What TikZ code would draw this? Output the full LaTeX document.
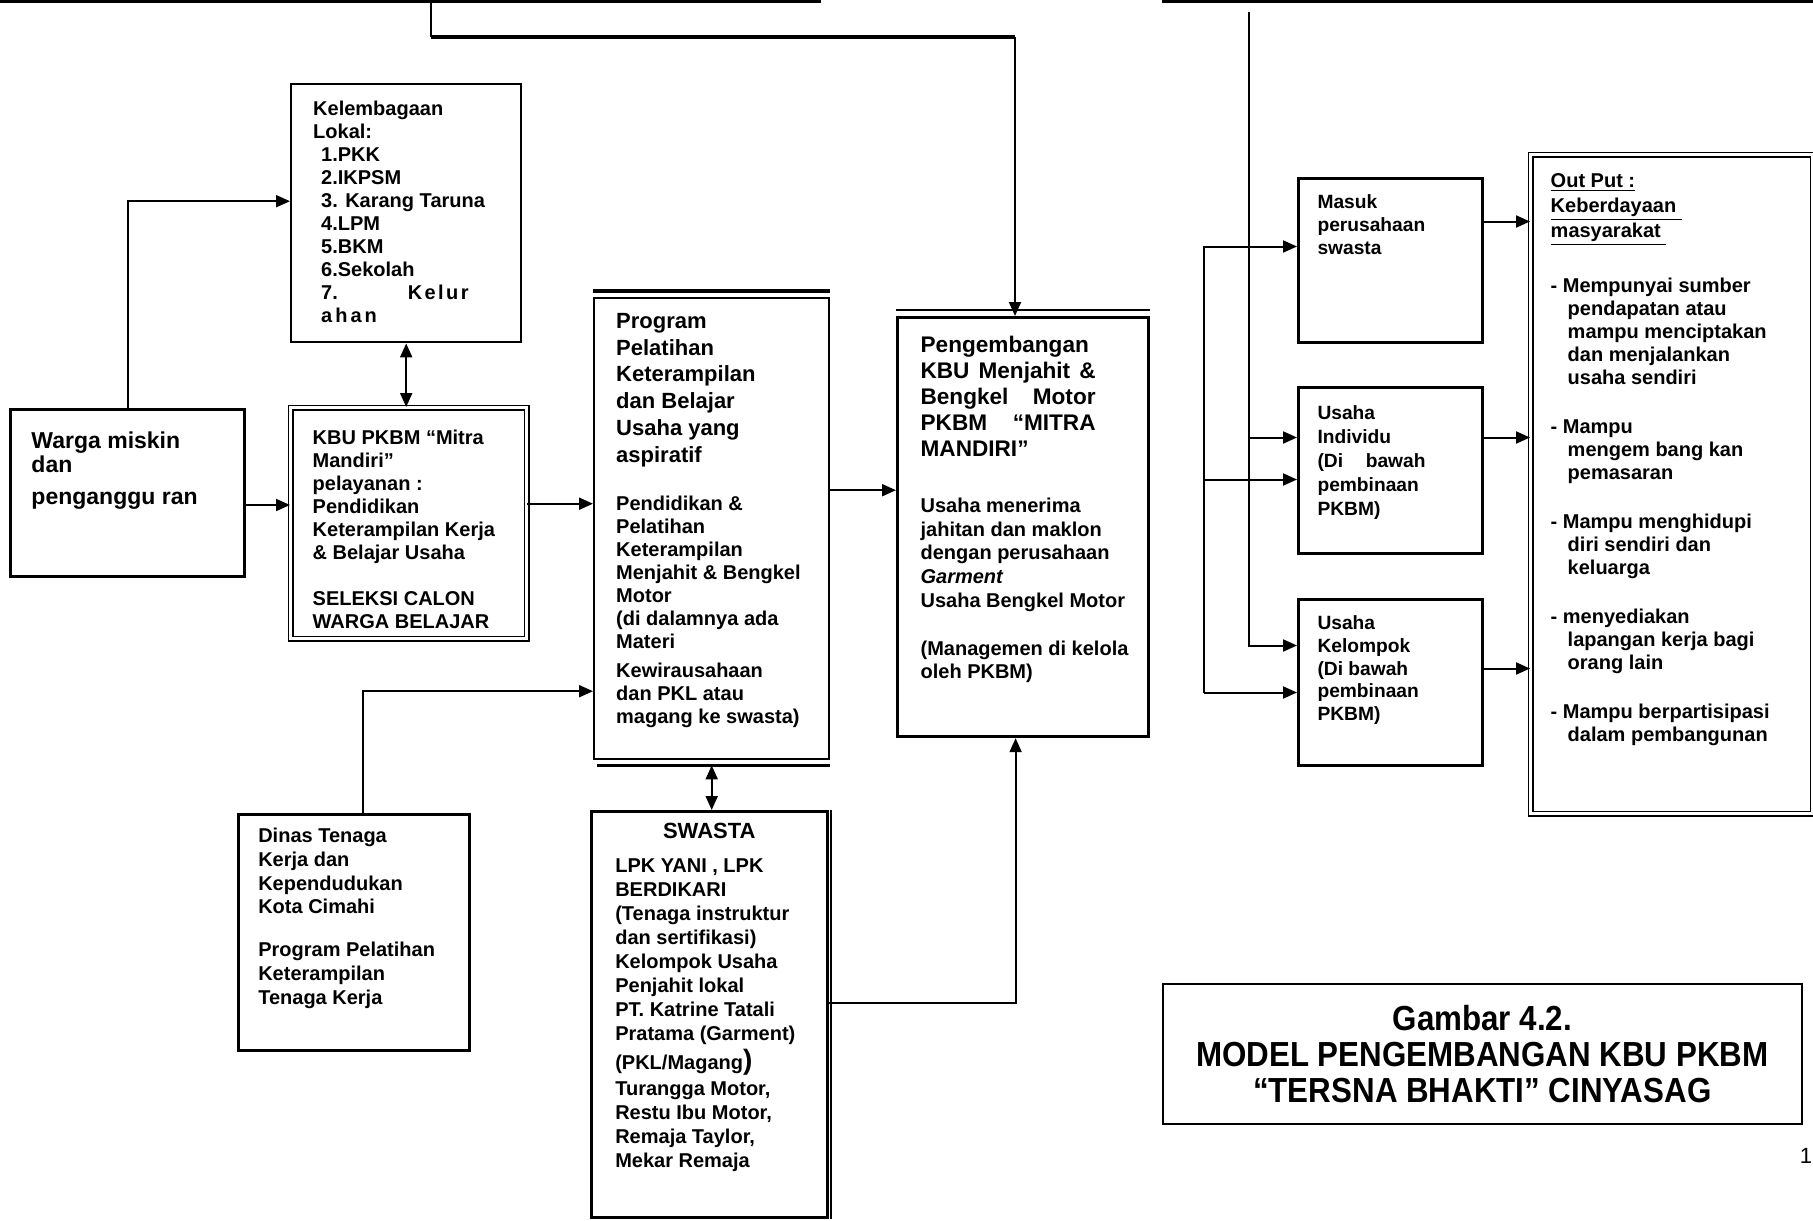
\documentclass[tikz,border=0pt]{standalone}
\usepackage{fontspec}
\setmainfont{Liberation Sans}
\newfontfamily\narrowfont[FakeStretch=0.9]{Liberation Sans}
\usetikzlibrary{positioning}
\usetikzlibrary{calc}
\usetikzlibrary{arrows.meta}
\newcommand{\boxtext}[5]{\parbox[t][#2][t]{#1}{\raggedright\leftskip=#3\relax\vspace*{#4}#5}}
\tikzset{every picture/.style={x=0.5pt,y=-0.5pt},box/.style={draw,line width=1.3pt,anchor=north west,inner sep=0pt,font=\bfseries\fontsize{10}{11.5}\selectfont},link/.style={line width=1pt},arr/.style={line width=1pt,-{Triangle[length=7pt,width=6pt]}},darr/.style={line width=1pt,{Triangle[length=7pt,width=6pt]}-{Triangle[length=7pt,width=6pt]}}}

\begin{document}
\begin{tikzpicture}
\useasboundingbox (0,0) rectangle (1813,1220);
\node (topL) [draw, line width=2.2pt, anchor=south east, minimum width=900pt, minimum height=60pt] at (821,3) {};
\node (topR) [draw, line width=2.2pt, anchor=south west, minimum width=400pt, minimum height=60pt] at (1162,3) {};
\node (kel) [box, line width=1.2pt] at (290,83) {\boxtext{115pt}{129pt}{11pt}{8.5pt}{Kelembagaan\\ Lokal:\\ \hspace*{4pt}1.PKK\\ \hspace*{4pt}2.IKPSM\\ \hspace*{4pt}3. Karang Taruna\\ \hspace*{4pt}4.LPM\\ \hspace*{4pt}5.BKM\\ \hspace*{4pt}6.Sekolah\\ \hspace*{4pt}7.\hspace{35pt}K\kern1.2pt e\kern1.2pt l\kern1.2pt u\kern1.2pt r\\ \hspace*{4pt}a\kern1.5pt h\kern1.5pt a\kern1.5pt n}};
\node (warga) [box, line width=1.5pt, font=\bfseries\fontsize{11.5}{12}\selectfont] at (9,408) {\boxtext{117pt}{83.5pt}{10.5pt}{11pt}{Warga miskin\\ dan\\[4pt] penganggu ran}};
\node (kbu) [box, double, line width=0.7pt, double distance=1.6pt] at (290,407) {\boxtext{118pt}{115.5pt}{11pt}{11pt}{KBU PKBM “Mitra\\ Mandiri”\\ pelayanan :\\ Pendidikan\\ Keterampilan Kerja\\ \& Belajar Usaha\\[11.5pt] SELEKSI CALON\\ WARGA BELAJAR}};
\node (prog) [box, line width=1.2pt] at (593,297) {\boxtext{117.5pt}{230.5pt}{11pt}{7.5pt}{{\fontsize{11}{13.4}\selectfont Program\\ Pelatihan\\ Keterampilan\\ dan Belajar\\ Usaha yang\\ aspiratif\par}\vspace{12.8pt}Pendidikan \&\\ Pelatihan\\ Keterampilan\\ Menjahit \& Bengkel\\ Motor\\ (di dalamnya ada\\ Materi\\[3pt] Kewirausahaan\\ dan PKL atau\\ magang ke swasta)}};
\node (kbum) [box, line width=1.6pt] at (896,316) {\boxtext{125.5pt}{209.5pt}{11.5pt}{9.5pt}{{\fontsize{11.3}{13}\selectfont Pengembangan\\ \makebox[87.5pt][s]{KBU Menjahit \&}\\ \makebox[87.5pt][s]{Bengkel Motor}\\ \makebox[87.5pt][s]{PKBM “MITRA}\\ MANDIRI”\par}\vspace{15.8pt}{\fontsize{10}{11.9}\selectfont Usaha menerima\\ jahitan dan maklon\\ dengan perusahaan\\ \textit{Garment}\\ Usaha Bengkel Motor\\[11.9pt] (Managemen di kelola\\ oleh PKBM)\par}}};
\node (dinas) [box] at (237,813) {\boxtext{115.5pt}{118pt}{10pt}{7pt}{{\fontsize{10}{11.85}\selectfont Dinas Tenaga\\ Kerja dan\\ Kependudukan\\ Kota Cimahi\\[9.5pt] Program Pelatihan\\ Keterampilan\\ Tenaga Kerja\par}}};
\node (swasta) [box] at (590,810) {\boxtext{118pt}{203pt}{12pt}{6pt}{{\centering\fontsize{11}{13}\selectfont SWASTA\par}\vspace{4.8pt}{\fontsize{10}{12}\selectfont LPK YANI , LPK\\ BERDIKARI\\ (Tenaga instruktur\\ dan sertifikasi)\\ Kelompok Usaha\\ Penjahit lokal\\ PT. Katrine Tatali\\ Pratama (Garment)\\[1.3pt] (PKL/Magang{\fontsize{14}{12}\selectfont)}\\[1.3pt] Turangga Motor,\\ Restu Ibu Motor,\\ Remaja Taylor,\\ Mekar Remaja\par}}};
\node (masuk) [box, line width=1.5pt, font=\bfseries\fontsize{9.6}{11.6}\selectfont] at (1297,177) {\boxtext{92pt}{82pt}{9.5pt}{8pt}{Masuk\\ perusahaan\\ swasta}};
\node (indiv) [box, line width=1.5pt, font=\bfseries\fontsize{9.6}{12}\selectfont] at (1297,386) {\boxtext{92pt}{83pt}{9.5pt}{9pt}{Usaha\\ Individu\\ \makebox[54pt][s]{(Di bawah}\\ pembinaan\\ PKBM)}};
\node (kelp) [box, line width=1.5pt, font=\bfseries\fontsize{9.6}{11.4}\selectfont] at (1297,598) {\boxtext{92pt}{83pt}{9.5pt}{8pt}{Usaha\\ Kelompok\\ (Di bawah\\ pembinaan\\ PKBM)}};
\node (output) [box, double, line width=0.7pt, double distance=1.6pt] at (1530,154) {\boxtext{141pt}{329.5pt}{10pt}{9.5pt}{{\fontsize{10}{12.4}\selectfont\underline{Out Put :}\\ \underline{Keberdayaan\ }\\ \underline{masyarakat\ }\par}\vspace{16.2pt}- Mempunyai sumber\\ \hspace*{8.5pt}pendapatan atau\\ \hspace*{8.5pt}mampu menciptakan\\ \hspace*{8.5pt}dan menjalankan\\ \hspace*{8.5pt}usaha sendiri\\[13pt] - Mampu\\ \hspace*{8.5pt}mengem bang kan\\ \hspace*{8.5pt}pemasaran\\[13pt] - Mampu menghidupi\\ \hspace*{8.5pt}diri sendiri dan\\ \hspace*{8.5pt}keluarga\\[13pt] - menyediakan\\ \hspace*{8.5pt}lapangan kerja bagi\\ \hspace*{8.5pt}orang lain\\[13pt] - Mampu berpartisipasi\\ \hspace*{8.5pt}dalam pembangunan}};
\node (title) [draw, line width=0.8pt, anchor=north west, minimum width=319.5pt, minimum height=70pt, align=center, font=\narrowfont\bfseries\fontsize{17.4}{18}\selectfont] at (1162,983) {Gambar 4.2.\\ MODEL PENGEMBANGAN KBU PKBM\\ “TERSNA BHAKTI” CINYASAG};
\node (page) [font=\fontsize{11}{13}\selectfont] at (1806,1156) {1};

\draw[line width=1.6pt] ([yshift=3pt]prog.north west) -- ([yshift=3pt]prog.north east);
\draw[line width=1.6pt] ([xshift=2pt,yshift=-2.5pt]prog.south west) -- ([yshift=-2.5pt]prog.south east);
\draw[line width=0.6pt] ([yshift=3pt]kbum.north west) -- ([yshift=3pt]kbum.north east);
\draw[line width=1.3pt] ([xshift=1.2pt]swasta.north east) -- ([xshift=1.2pt]swasta.south east);

\coordinate (bendA) at (431,37);
\coordinate (bendB) at (1015,37);
\draw[link] (topL.south east -| bendA) -- (bendA);
\draw[line width=2.2pt] (bendA) -- (bendB);
\draw[arr] (bendB) -- (bendB |- kbum.north);
\draw[arr] (warga.north) |- ($(kel.west)+(0,-12)$);
\coordinate (wk) at ($(warga.east)+(0,12)$);
\draw[arr] (wk) -- (wk -| kbu.west);
\draw[darr] (kel.south) -- (kel.south |- kbu.north);
\coordinate (kp) at ($(kbu.east)+(0,-19.5)$);
\draw[arr] (kp) -- (kp -| prog.west);
\coordinate (pk) at ($(prog.east)+(0,-38.5)$);
\draw[arr] (pk) -- (pk -| kbum.west);
\coordinate (dp) at ($(dinas.north)+(9.5,0)$);
\coordinate (pd) at ($(prog.west)+(0,162.5)$);
\draw[arr] (dp) |- (pd);
\draw[darr] ([yshift=-2.5pt]prog.south) -- (prog.south |- swasta.north);
\coordinate (sk) at ($(swasta.east)+(0,-11)$);
\draw[arr] (sk) -| ($(kbum.south)+(-7.5,0)$);

\coordinate (busR) at ($(topR.south west)+(87,9)$);
\coordinate (busL) at (1204,0);
\coordinate (i1) at ($(indiv.west)+(0,-33)$);
\coordinate (k1) at ($(kelp.west)+(0,-37)$);
\coordinate (m2) at ($(masuk.west)+(0,-14)$);
\coordinate (i2) at ($(indiv.west)+(0,9)$);
\coordinate (k2) at ($(kelp.west)+(0,10)$);
\draw[arr] (busR) |- (k1);
\draw[arr] (busR |- i1) -- (i1);
\draw[arr] (busL |- k2) |- (m2);
\draw[arr] (busL |- k2) -- (k2);
\draw[arr] (busL |- i2) -- (i2);
\coordinate (mo) at ($(masuk.east)+(0,-39)$);
\coordinate (io) at ($(indiv.east)+(0,-33)$);
\coordinate (ko) at ($(kelp.east)+(0,-14)$);
\draw[arr] (mo) -- (mo -| output.west);
\draw[arr] (io) -- (io -| output.west);
\draw[arr] (ko) -- (ko -| output.west);
\end{tikzpicture}
\end{document}
